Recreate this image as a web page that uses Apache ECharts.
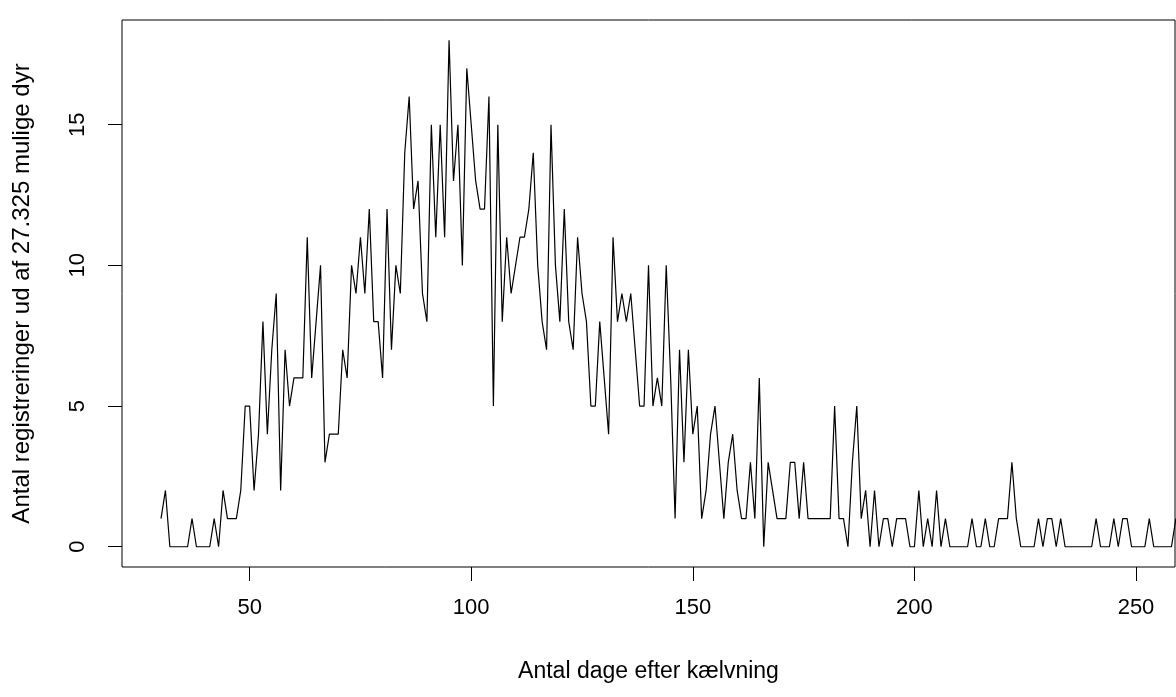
<!DOCTYPE html>
<html>
<head>
<meta charset="utf-8">
<script src="https://cdn.jsdelivr.net/npm/echarts@6/dist/echarts.min.js"></script>
<style>
  html, body { margin: 0; padding: 0; background: #fff; }
  #chart { width: 1176px; height: 697px; }
</style>
</head>
<body>
<div id="chart"></div>
<script>
// Day after calving of the first value
const startDay = 30;
// Number of registrations per day (days 30 .. 259)
const counts = [
  1, 2, 0, 0, 0, 0, 0, 1, 0, 0,     // 30-39
  0, 0, 1, 0, 2, 1, 1, 1, 2, 5,     // 40-49
  5, 2, 4, 8, 4, 7, 9, 2, 7, 5,     // 50-59
  6, 6, 6, 11, 6, 8, 10, 3, 4, 4,   // 60-69
  4, 7, 6, 10, 9, 11, 9, 12, 8, 8,  // 70-79
  6, 12, 7, 10, 9, 14, 16, 12, 13, 9, // 80-89
  8, 15, 11, 15, 11, 18, 13, 15, 10, 17, // 90-99
  15, 13, 12, 12, 16, 5, 15, 8, 11, 9,   // 100-109
  10, 11, 11, 12, 14, 10, 8, 7, 15, 10,  // 110-119
  8, 12, 8, 7, 11, 9, 8, 5, 5, 8,        // 120-129
  6, 4, 11, 8, 9, 8, 9, 7, 5, 5,         // 130-139
  10, 5, 6, 5, 10, 6, 1, 7, 3, 7,        // 140-149
  4, 5, 1, 2, 4, 5, 3, 1, 3, 4,          // 150-159
  2, 1, 1, 3, 1, 6, 0, 3, 2, 1,          // 160-169
  1, 1, 3, 3, 1, 3, 1, 1, 1, 1,          // 170-179
  1, 1, 5, 1, 1, 0, 3, 5, 1, 2,          // 180-189
  0, 2, 0, 1, 1, 0, 1, 1, 1, 0,          // 190-199
  0, 2, 0, 1, 0, 2, 0, 1, 0, 0,          // 200-209
  0, 0, 0, 1, 0, 0, 1, 0, 0, 1,          // 210-219
  1, 1, 3, 1, 0, 0, 0, 0, 1, 0,          // 220-229
  1, 1, 0, 1, 0, 0, 0, 0, 0, 0,          // 230-239
  0, 1, 0, 0, 0, 1, 0, 1, 1, 0,          // 240-249
  0, 0, 0, 1, 0, 0, 0, 0, 0, 1           // 250-259
];
const xTicks = [50, 100, 150, 200, 250];
const yTicks = [0, 5, 10, 15];
const xTitle = 'Antal dage efter kælvning';
const yTitle = 'Antal registreringer ud af 27.325 mulige dyr';

const seriesData = counts.map((v, i) => [startDay + i, v]);

const font = "'Liberation Sans', Arial, sans-serif";
const chart = echarts.init(document.getElementById('chart'), null, { renderer: 'canvas' });
chart.setOption({
  animation: false,
  backgroundColor: '#fff',
  grid: {
    left: 122, right: 1, top: 20, bottom: 130,
    show: true, borderColor: '#000', borderWidth: 1, backgroundColor: 'transparent',
    containLabel: false
  },
  xAxis: {
    type: 'value',
    min: 21.2, max: 258.8,
    position: 'bottom',
    axisLine: { show: false, onZero: false },
    splitLine: { show: false },
    axisTick: { show: true, inside: false, length: 14, customValues: xTicks, lineStyle: { color: '#000', width: 1 } },
    axisLabel: { customValues: xTicks, fontSize: 22, color: '#000', fontFamily: font, margin: 30 },
    name: xTitle,
    nameLocation: 'middle',
    nameGap: 93,
    nameTextStyle: { fontSize: 23, color: '#000', fontFamily: font }
  },
  yAxis: {
    type: 'value',
    min: -0.72, max: 18.72,
    position: 'left',
    axisLine: { show: false, onZero: false },
    splitLine: { show: false },
    axisTick: { show: true, inside: false, length: 14, customValues: yTicks, lineStyle: { color: '#000', width: 1 } },
    axisLabel: { customValues: yTicks, fontSize: 22, color: '#000', fontFamily: font, margin: 33, rotate: 90 },
    name: yTitle,
    nameLocation: 'middle',
    nameGap: 88,
    nameRotate: 90,
    nameTextStyle: { fontSize: 24, color: '#000', fontFamily: font }
  },
  series: [{
    type: 'line',
    data: seriesData,
    showSymbol: false,
    clip: true,
    lineStyle: { color: '#000', width: 1.2 },
    emphasis: { disabled: true }
  }]
});
</script>
</body>
</html>
